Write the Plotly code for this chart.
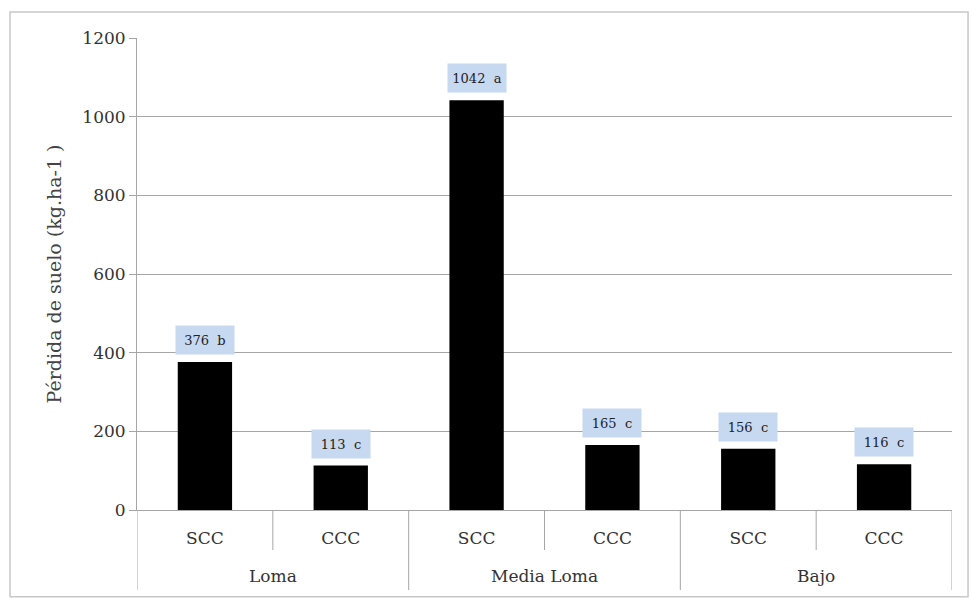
import plotly.graph_objects as go

# Soil loss by landscape position and treatment
posiciones = ["Loma", "Media Loma", "Bajo"]
tratamientos = ["SCC", "CCC", "SCC", "CCC", "SCC", "CCC"]
perdida = [376, 113, 1042, 165, 156, 116]
letras = ["b", "c", "a", "c", "c", "c"]
y_ticks = [0, 200, 400, 600, 800, 1000, 1200]

FONT = "DejaVu Serif"
GRID = "#a6a6a6"
TXT = "#333333"

n_por_grupo = len(tratamientos) // len(posiciones)
xs = list(range(len(tratamientos)))

fig = go.Figure()
fig.add_trace(go.Bar(
    x=xs, y=perdida,
    marker=dict(color="black", line=dict(width=0)),
    width=0.4, showlegend=False, hoverinfo="skip",
))

# Value labels with letter groups, placed above each bar
for i, (v, l) in enumerate(zip(perdida, letras)):
    fig.add_annotation(
        x=xs[i], y=v, xref="x", yref="y",
        text=f"{v}&nbsp;&nbsp;{l}",
        showarrow=False, yshift=22,
        bgcolor="#c6d9f1", width=56, height=26,
        font=dict(family=FONT, size=13, color="#222222"),
    )

# Plot height in px, used to express tick/divider lengths in paper units
PLOT_H = 598 - 38 - 88
short = -40 / PLOT_H
long_ = -80 / PLOT_H

# Boundaries between treatments (short) and between positions (long)
for b in range(len(tratamientos) + 1):
    xb = b - 0.5
    y1 = long_ if b % n_por_grupo == 0 else short
    fig.add_shape(type="line", xref="x", yref="paper",
                  x0=xb, x1=xb, y0=0, y1=y1,
                  line=dict(color=GRID, width=1))

# Position names under each pair of bars
for g, nombre in enumerate(posiciones):
    centro = g * n_por_grupo + (n_por_grupo - 1) / 2
    fig.add_annotation(x=centro, y=-66 / PLOT_H, xref="x", yref="paper",
                       text=nombre, showarrow=False, yanchor="middle",
                       font=dict(family=FONT, size=17, color=TXT))

# Outer frame around the whole chart
fig.add_shape(
    type="rect", xref="paper", yref="paper",
    x0=-0.1558, x1=1.0197, y0=-0.184, y1=1.055,
    line=dict(color="#c8c8c8", width=1.5), fillcolor="rgba(0,0,0,0)",
    layer="below",
)

fig.update_layout(
    width=971, height=598,
    margin=dict(l=137, r=19, t=38, b=88),
    plot_bgcolor="white", paper_bgcolor="white",
    font=dict(family=FONT, size=17, color=TXT),
)
fig.update_xaxes(
    range=[-0.5, len(tratamientos) - 0.5],
    tickvals=xs, ticktext=tratamientos,
    showline=True, linecolor=GRID, linewidth=1,
    ticks="outside", ticklen=13, tickcolor="rgba(0,0,0,0)",
    tickfont=dict(family=FONT, size=17, color=TXT),
    showgrid=False, zeroline=False,
)
fig.update_yaxes(
    range=[0, 1200], tickvals=y_ticks,
    showgrid=True, gridcolor=GRID, gridwidth=1,
    showline=True, linecolor=GRID, linewidth=1,
    ticks="outside", ticklen=7, tickcolor=GRID,
    zeroline=False,
    tickfont=dict(family=FONT, size=17, color=TXT),
    title=dict(text="Pérdida de suelo (kg.ha-1 )",
               font=dict(family=FONT, size=19, color="#444444"), standoff=15),
)

fig.write_html("out.html")
